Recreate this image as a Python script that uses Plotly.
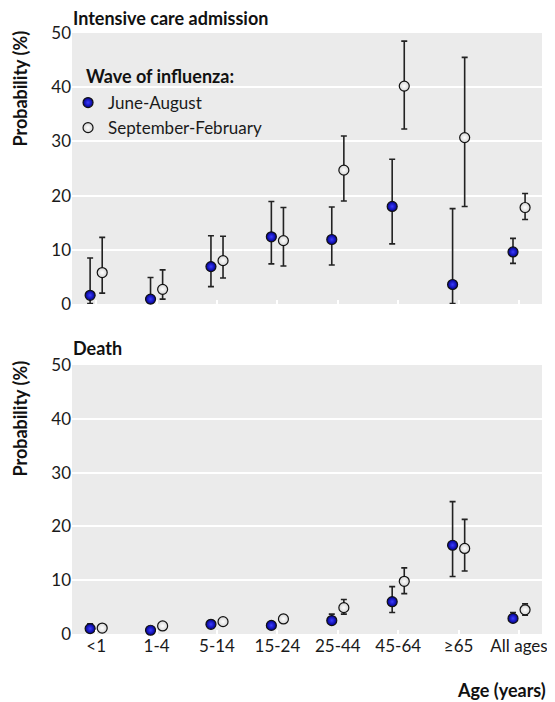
import plotly.graph_objects as go

categories = ["<1", "1-4", "5-14", "15-24", "25-44", "45-64", "≥65", "All ages"]

# Intensive care admission (%)
icu_jun = [1.6, 0.9, 6.9, 12.4, 11.9, 18.0, 3.6, 9.6]
icu_jun_lo = [0.1, 0.0, 3.2, 7.4, 7.2, 11.1, 0.1, 7.5]
icu_jun_hi = [8.5, 4.9, 12.6, 18.9, 17.9, 26.7, 17.6, 12.1]
icu_sep = [5.8, 2.7, 8.0, 11.7, 24.7, 40.2, 30.7, 17.8]
icu_sep_lo = [2.0, 0.9, 4.8, 7.0, 19.0, 32.3, 18.0, 15.6]
icu_sep_hi = [12.3, 6.3, 12.5, 17.8, 31.0, 48.5, 45.5, 20.4]

# Death (%)
death_jun = [1.0, 0.7, 1.8, 1.6, 2.5, 6.0, 16.5, 2.9]
death_jun_lo = [0.5, 0.2, 1.3, 1.1, 1.8, 4.0, 10.7, 2.2]
death_jun_hi = [1.9, 1.3, 2.5, 2.2, 3.7, 8.8, 24.6, 4.0]
death_sep = [1.1, 1.5, 2.3, 2.8, 4.9, 9.8, 15.9, 4.5]
death_sep_lo = [0.7, 1.0, 1.8, 2.2, 3.7, 7.5, 11.7, 3.5]
death_sep_hi = [1.6, 2.1, 2.8, 3.5, 6.4, 12.3, 21.3, 5.6]

series_names = ["June-August", "September-February"]
yticks = [0, 10, 20, 30, 40, 50]

FONT = "Lato"
BLUE = "#00008e"
BLUE_HI = "#3c3cff"
ERR = "#222222"
DODGE = 0.1

idx = list(range(len(categories)))

fig = go.Figure()


def add_series(vals, lo, hi, name, xaxis, yaxis, offset, fill, grad, show):
    fig.add_trace(go.Scatter(
        x=[i + offset for i in idx], y=vals,
        mode="markers", name=name, showlegend=show, legendgroup=name,
        xaxis=xaxis, yaxis=yaxis, cliponaxis=False,
        marker=dict(size=10, color=fill, symbol="circle",
                    gradient=dict(type="radial", color=grad),
                    line=dict(color="#111111", width=1.2)),
        error_y=dict(type="data", symmetric=False,
                     array=[h - v for h, v in zip(hi, vals)],
                     arrayminus=[v - l for v, l in zip(vals, lo)],
                     color=ERR, thickness=1.6, width=3),
    ))


add_series(icu_jun, icu_jun_lo, icu_jun_hi, series_names[0], "x", "y", -DODGE, BLUE, BLUE_HI, True)
add_series(icu_sep, icu_sep_lo, icu_sep_hi, series_names[1], "x", "y", DODGE, "#d4d4d4", "#ffffff", True)
add_series(death_jun, death_jun_lo, death_jun_hi, series_names[0], "x2", "y2", -DODGE, BLUE, BLUE_HI, False)
add_series(death_sep, death_sep_lo, death_sep_hi, series_names[1], "x2", "y2", DODGE, "#d4d4d4", "#ffffff", False)

xcommon = dict(range=[-0.4, 7.38], tickmode="array", tickvals=idx, ticktext=categories,
               showgrid=False, zeroline=False, showline=False,
               ticks="inside", ticklen=4, tickcolor="white", tickwidth=1.5,
               tickfont=dict(family=FONT, size=17, color="#1a1a1a"))
ycommon = dict(range=[0, 50], tickvals=yticks, showgrid=True, gridcolor="white", gridwidth=1.6,
               zeroline=False, showline=False, ticks="",
               tickfont=dict(family=FONT, size=17, color="#1a1a1a"))

# page has an 8px body margin; plot area on page: x 72..547, y 33..634
top_dom = [(634 - 304) / 601, 1.0]
bot_dom = [0.0, (634 - 365) / 601]


def py(page_y):
    return (634 - page_y) / 601


def px(page_x):
    return (page_x - 72) / 475


TF = dict(family=FONT, size=18, color="#111111")

fig.update_layout(
    width=547, height=694,
    margin=dict(l=64, r=8, t=25, b=68),
    paper_bgcolor="white", plot_bgcolor="#ebebeb",
    font=dict(family=FONT, size=17, color="#111111"),
    xaxis=dict(domain=[0, 1], anchor="y", showticklabels=False, **xcommon),
    yaxis=dict(domain=top_dom, anchor="x", **ycommon),
    xaxis2=dict(domain=[0, 1], anchor="y2", **xcommon),
    yaxis2=dict(domain=bot_dom, anchor="x2", **ycommon),
    legend=dict(
        x=px(68), y=py(85), xanchor="left", yanchor="top",
        bgcolor="rgba(0,0,0,0)", borderwidth=0,
        font=dict(family=FONT, size=17, color="#1a1a1a"),
        itemwidth=30, tracegroupgap=0,
    ),
    annotations=[
        dict(text="<b>Wave of influenza:</b>", xref="paper", yref="paper", x=px(84), y=py(76),
             xanchor="left", yanchor="middle", showarrow=False, font=TF),
        dict(text="<b>Intensive care admission</b>", xref="paper", yref="paper", x=px(71), y=py(18),
             xanchor="left", yanchor="middle", showarrow=False, font=TF),
        dict(text="<b>Death</b>", xref="paper", yref="paper", x=px(71), y=py(348),
             xanchor="left", yanchor="middle", showarrow=False, font=TF),
        dict(text="<b>Probability (%)</b>", xref="paper", yref="paper", x=px(19), y=py(89),
             xanchor="center", yanchor="middle", textangle=-90, showarrow=False, font=TF),
        dict(text="<b>Probability (%)</b>", xref="paper", yref="paper", x=px(19), y=py(419),
             xanchor="center", yanchor="middle", textangle=-90, showarrow=False, font=TF),
        dict(text="<b>Age (years)</b>", xref="paper", yref="paper", x=px(553), y=py(690),
             xanchor="right", yanchor="middle", showarrow=False, font=TF),
    ],
)

fig.write_html("out.html")
